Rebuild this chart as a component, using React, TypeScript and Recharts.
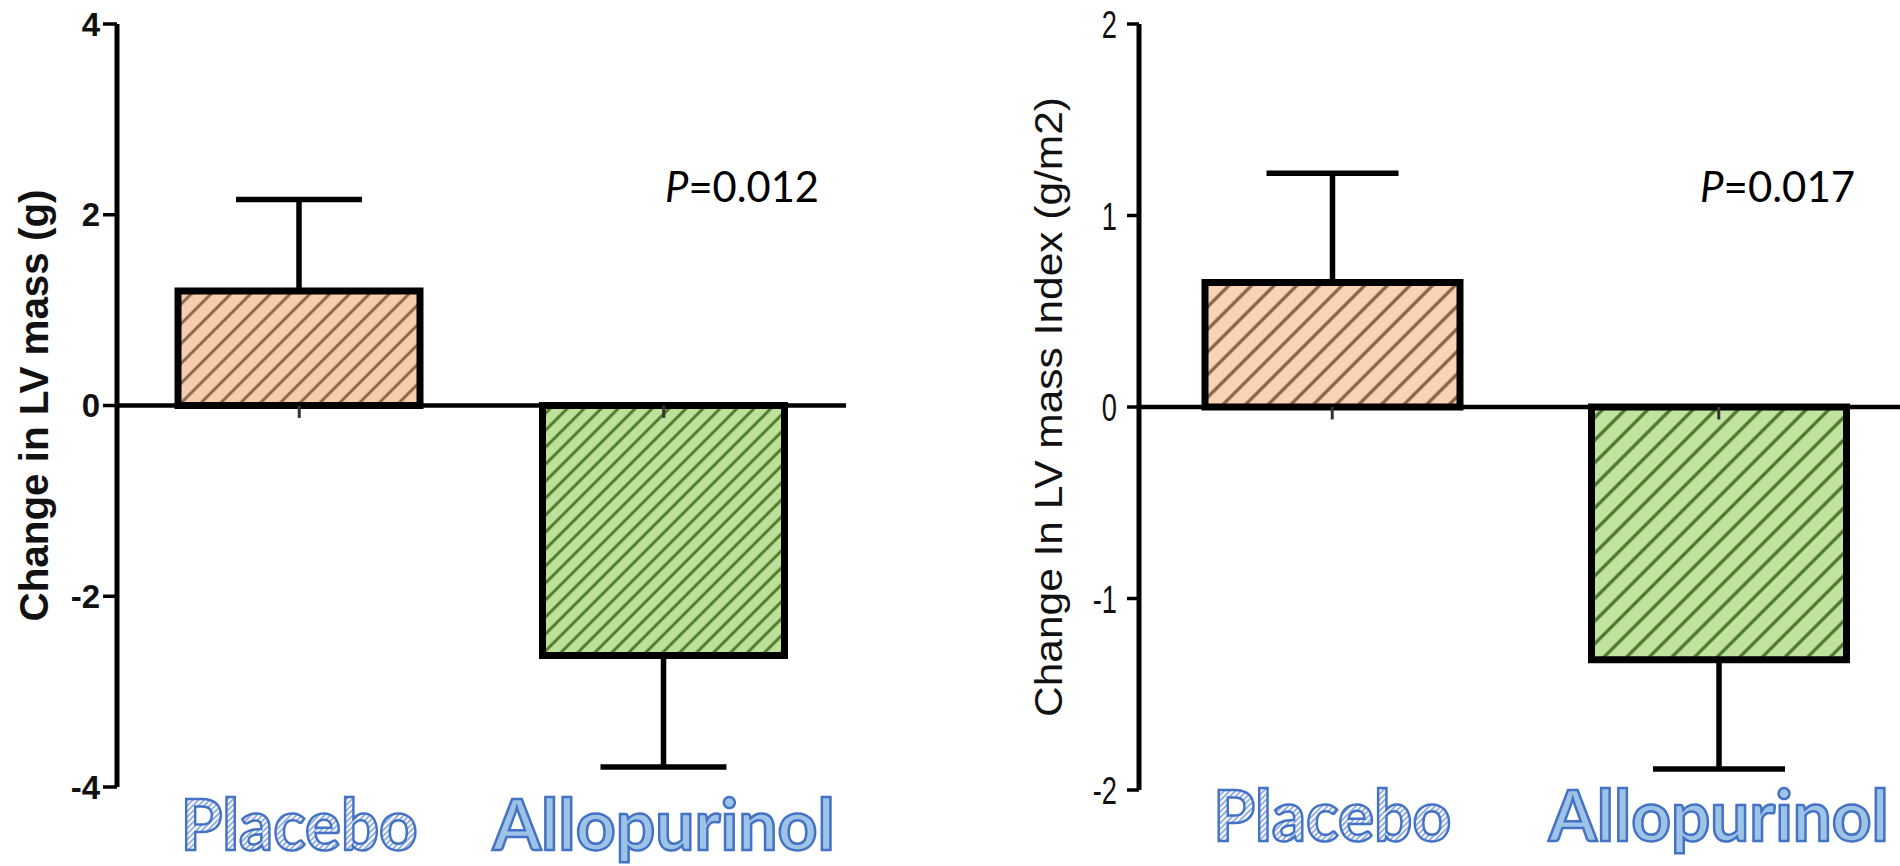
import { BarChart, Bar, XAxis, YAxis, ErrorBar, Cell, ReferenceLine } from 'recharts';

// groups and values
const groups = ['Placebo', 'Allopurinol'];

const massChange = [1.2, -2.62];
const massErrUp = [0.96, 0];
const massErrDown = [0, 1.17];
const massTicks = [-4, -2, 0, 2, 4];

const indexChange = [0.65, -1.32];
const indexErrUp = [0.57, 0];
const indexErrDown = [0, 0.57];
const indexTicks = [-2, -1, 0, 1, 2];

const pValues = ['0.012', '0.017'];

const massData = groups.map((g, i) => ({ group: g, value: massChange[i], err: [massErrDown[i], massErrUp[i]] }));
const indexData = groups.map((g, i) => ({ group: g, value: indexChange[i], err: [indexErrDown[i], indexErrUp[i]] }));

const ARIAL = "'Liberation Sans', Arial, sans-serif";
const CALIBRI = "Lato, 'Open Sans', sans-serif";

// hatch pattern: diagonal "/" lines on a flat fill
const Hatch = ({ id, bg, line, gap, w }: any) => (
  <pattern id={id} width={gap} height={gap} patternUnits="userSpaceOnUse" patternTransform="rotate(45)">
    <rect width={gap} height={gap} fill={bg} />
    <line x1={gap / 2} y1={0} x2={gap / 2} y2={gap} stroke={line} strokeWidth={w} />
  </pattern>
);

// category labels drawn below the plot
const GroupTick = ({ x, y, payload, drop, lengths }: any) => {
  const isPlacebo = payload.value === 'Placebo';
  return (
    <text
      x={x}
      y={y + drop}
      textAnchor="middle"
      fontFamily={CALIBRI}
      fontWeight={700}
      fontSize={70}
      textLength={lengths[payload.index]}
      lengthAdjust="spacingAndGlyphs"
      fill={isPlacebo ? 'url(#txtHatch)' : '#9DC3E6'}
      stroke="#4472C4"
      strokeWidth={2.5}
    >
      {payload.value}
    </text>
  );
};

// narrow tall tick labels of the right panel
const NarrowTick = ({ x, y, payload }: any) => (
  <text
    transform={`translate(${x},${y}) scale(0.7,1)`}
    x={0}
    y={0}
    dy="0.36em"
    textAnchor="end"
    fontFamily={ARIAL}
    fontSize={39}
    fill="#111"
  >
    {payload.value}
  </text>
);

const YTitle = ({ viewBox, text, dx, bold, size, len }: any) => {
  const vb = viewBox || { x: 0, y: 24, width: 0, height: 763 };
  const cx = vb.x + dx;
  const cy = vb.y + vb.height / 2;
  return (
    <text
      x={cx}
      y={cy}
      transform={`rotate(-90 ${cx} ${cy})`}
      textAnchor="middle"
      fontFamily={ARIAL}
      fontWeight={bold ? 700 : 400}
      fontSize={size}
      fill="#111"
      textLength={len}
      lengthAdjust="spacingAndGlyphs"
    >
      {text}
    </text>
  );
};

export default function App() {
  return (
    <div style={{ position: 'absolute', left: 0, top: 0, width: 1900, height: 866, overflow: 'hidden', background: '#fff' }}>
      <svg width={0} height={0} style={{ position: 'absolute' }}>
        <defs>
          <Hatch id="peachL" bg="#F7CDAE" line="#86603F" gap={14} w={2.8} />
          <Hatch id="greenL" bg="#BDE09A" line="#4A7628" gap={12} w={2.8} />
          <Hatch id="peachR" bg="#F8D3B6" line="#86603F" gap={16} w={3.2} />
          <Hatch id="greenR" bg="#C2E3A0" line="#48742A" gap={16} w={3.2} />
          <pattern id="txtHatch" width={4} height={4} patternUnits="userSpaceOnUse" patternTransform="rotate(45)">
            <rect width={4} height={4} fill="#ffffff" />
            <line x1={2} y1={0} x2={2} y2={4} stroke="#7496D6" strokeWidth={1.5} />
          </pattern>
        </defs>
      </svg>

      {/* left panel: LV mass */}
      <div style={{ position: 'absolute', left: 0, top: 0 }}>
        <BarChart width={870} height={866} data={massData} margin={{ top: 24, right: 24, bottom: 0, left: 0 }}>
          <XAxis
            dataKey="group"
            height={79}
            axisLine={false}
            tickLine={false}
            tickSize={0}
            tickMargin={0}
            interval={0}
            tick={<GroupTick drop={63} lengths={[237, 342]} />}
          />
          <YAxis
            width={117}
            domain={[-4, 4]}
            ticks={massTicks}
            axisLine={{ stroke: '#000', strokeWidth: 5 }}
            tickLine={{ stroke: '#000', strokeWidth: 3.5 }}
            tickSize={14}
            tickMargin={3}
            tick={{ fontFamily: ARIAL, fontWeight: 700, fontSize: 33, fill: '#111' }}
            label={<YTitle text="Change in LV mass (g)" dx={48} bold size={41} len={432} />}
          />
          <ReferenceLine y={0} stroke="#000" strokeWidth={4.5} />
          {groups.map((g) => (
            <ReferenceLine key={g} segment={[{ x: g, y: 0 }, { x: g, y: -0.13 }]} stroke="#333" strokeWidth={3} />
          ))}
          <Bar dataKey="value" barSize={242} stroke="#000" strokeWidth={7} isAnimationActive={false}>
            <Cell fill="url(#peachL)" />
            <Cell fill="url(#greenL)" />
            <ErrorBar dataKey="err" width={63} stroke="#000" strokeWidth={5.5} direction="y" />
          </Bar>
        </BarChart>
      </div>

      {/* right panel: LV mass index */}
      <div style={{ position: 'absolute', left: 960, top: 0 }}>
        <BarChart width={952} height={866} data={indexData} margin={{ top: 24, right: 0, bottom: 0, left: 0 }}>
          <XAxis
            dataKey="group"
            height={76}
            axisLine={false}
            tickLine={false}
            tickSize={0}
            tickMargin={0}
            interval={0}
            tick={<GroupTick drop={51} lengths={[238, 340]} />}
          />
          <YAxis
            width={179}
            domain={[-2, 2]}
            ticks={indexTicks}
            axisLine={{ stroke: '#000', strokeWidth: 5 }}
            tickLine={{ stroke: '#000', strokeWidth: 3.5 }}
            tickSize={12}
            tickMargin={10}
            tick={<NarrowTick />}
            label={<YTitle text="Change In LV mass Index (g/m2)" dx={102} size={39} len={620} />}
          />
          <ReferenceLine y={0} stroke="#000" strokeWidth={4.5} />
          {groups.map((g) => (
            <ReferenceLine key={g} segment={[{ x: g, y: 0 }, { x: g, y: -0.065 }]} stroke="#333" strokeWidth={3} />
          ))}
          <Bar dataKey="value" barSize={255} stroke="#000" strokeWidth={7} isAnimationActive={false}>
            <Cell fill="url(#peachR)" />
            <Cell fill="url(#greenR)" />
            <ErrorBar dataKey="err" width={66} stroke="#000" strokeWidth={5.5} direction="y" />
          </Bar>
        </BarChart>
      </div>

      {/* P values */}
      <svg width={1900} height={866} style={{ position: 'absolute', left: 0, top: 0, pointerEvents: 'none' }}>
        <text x={665} y={202} fontFamily={CALIBRI} fontSize={42} fill="#000" textLength={154} lengthAdjust="spacingAndGlyphs">
          <tspan fontStyle="italic">P</tspan>={pValues[0]}
        </text>
        <text x={1700} y={202} fontFamily={CALIBRI} fontSize={42} fill="#000" textLength={155} lengthAdjust="spacingAndGlyphs">
          <tspan fontStyle="italic">P</tspan>={pValues[1]}
        </text>
      </svg>
    </div>
  );
}
